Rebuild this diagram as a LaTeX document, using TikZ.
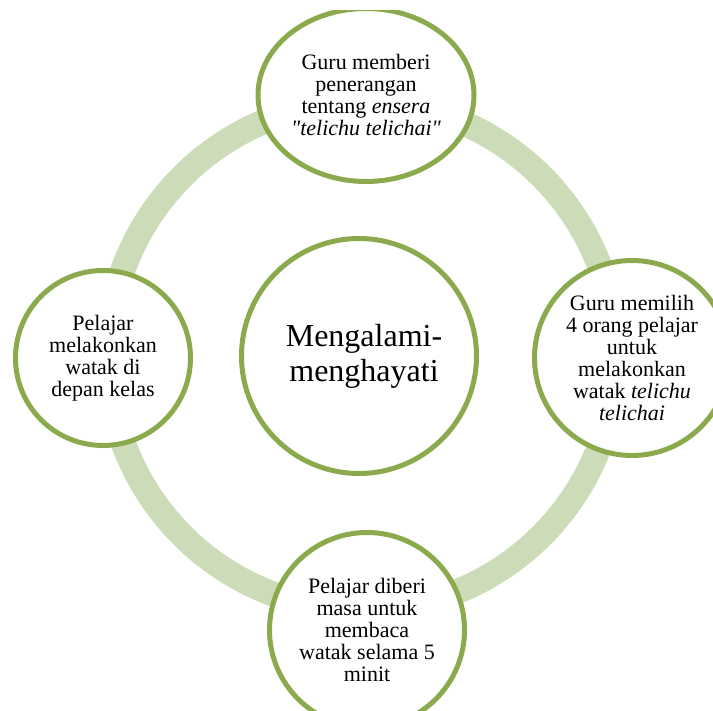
\documentclass[tikz,border=0pt]{standalone}
\usepackage{fontspec}
\setmainfont{Liberation Serif}
\usetikzlibrary{shapes.geometric}

\definecolor{ringgreen}{RGB}{205,220,184}
\definecolor{edgegreen}{RGB}{139,170,78}

\begin{document}
\begin{tikzpicture}[x=1pt, y=-1pt,
  phase/.style={circle, draw=edgegreen, line width=5pt, fill=white, align=center,
    inner sep=0pt, font=\fontsize{22}{22}\selectfont},
  hub/.style={phase, font=\fontsize{32}{35}\selectfont}]

% canvas
\useasboundingbox (0,0) rectangle (713,711);
\clip (0,11) rectangle (713,711);

% cycle ring
\draw[ringgreen, line width=25pt] (362,356) circle[radius=254pt];

% hub
\node[hub, minimum size=235pt] (hub) at (359,356) {\hspace*{10pt}Mengalami-\\\hspace*{10pt}menghayati};

% phases of the cycle
\node[phase, ellipse, minimum width=216pt, minimum height=173pt] (explain) at (366,95)
  {Guru memberi\\penerangan\\tentang \textit{ensera}\\\textit{\textquotedbl telichu telichai\textquotedbl}};
\node[phase, minimum size=195pt] (choose) at (632,358)
  {Guru memilih\\4 orang pelajar\\untuk\\melakonkan\\watak \textit{telichu}\\\textit{telichai}};
\node[phase, minimum size=195pt] (read) at (367,630)
  {Pelajar diberi\\masa untuk\\membaca\\watak selama 5\\minit};
\node[phase, minimum size=175pt] (act) at (103,358)
  {Pelajar\\melakonkan\\watak di\\depan kelas};

\end{tikzpicture}
\end{document}
